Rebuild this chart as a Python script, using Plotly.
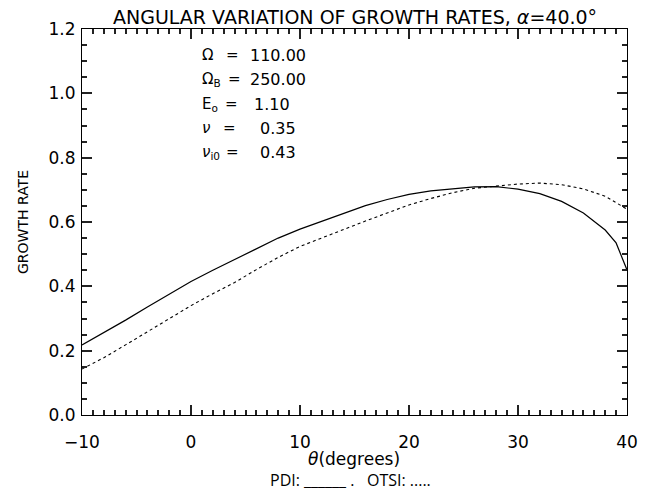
import plotly.graph_objects as go

# ---- data ----
theta_pdi = [-10, -8, -6, -4, -2, 0, 2, 4, 6, 8, 10, 12, 14, 16, 18, 20, 22, 24, 26, 28,
             30, 32, 34, 36, 38, 39, 40]
rate_pdi = [0.218, 0.256, 0.295, 0.336, 0.376, 0.415, 0.450, 0.484, 0.518, 0.550, 0.578,
            0.603, 0.627, 0.651, 0.670, 0.686, 0.697, 0.704, 0.709, 0.710,
            0.702, 0.688, 0.664, 0.628, 0.575, 0.535, 0.451]

theta_otsi = [-10, -8, -6, -4, -2, 0, 2, 4, 6, 8, 10, 12, 14, 16, 18, 20, 22, 24, 26, 28,
              30, 32, 34, 36, 38, 40]
rate_otsi = [0.143, 0.178, 0.218, 0.259, 0.299, 0.340, 0.377, 0.412, 0.452, 0.490, 0.524,
             0.551, 0.578, 0.603, 0.628, 0.653, 0.673, 0.691, 0.705, 0.712,
             0.718, 0.721, 0.716, 0.703, 0.680, 0.640]

param_labels = ["Ω", "Ω<sub>B</sub>", "E<sub>o</sub>", "<i>ν</i>", "<i>ν</i><sub>i0</sub>"]
param_values = ["110.00", "250.00", "1.10", "0.35", "0.43"]

title_text = "ANGULAR VARIATION OF GROWTH RATES, <i>α</i>=40.0°"
x_title = "<i>θ</i>(degrees)"
y_title = "GROWTH RATE"
legend_text = "PDI: ______ .   OTSI: ....."

# ---- layout geometry ----
# page body has an 8px margin, so the figure is offset by (8, 8) in the window
OFF = 8
W, H = 665 - 2 * OFF, 497 - 2 * OFF
# target plot box in window pixels: x 82..627, y 29..415
L, T = 82 - OFF, 29 - OFF
R = W - (627 - OFF)
B = H - (415 - OFF)
PW, PH = W - L - R, H - T - B
FONT = "DejaVu Sans"
TICKC = "#222222"


def px(xp):
    # window pixel -> paper fraction
    return (xp - OFF - L) / PW


def py(yp):
    return (H - B - (yp - OFF)) / PH


fig = go.Figure()
fig.add_trace(go.Scatter(x=theta_pdi, y=rate_pdi, mode="lines",
                         line=dict(color="black", width=1.2), showlegend=False))
fig.add_trace(go.Scatter(x=theta_otsi, y=rate_otsi, mode="lines",
                         line=dict(color="black", width=1.1, dash="dot"), showlegend=False))

tickfont = dict(family=FONT, size=17, color="black")

fig.update_xaxes(range=[-10, 40], dtick=10, showline=True, linecolor="black", linewidth=1,
                 mirror="allticks", ticks="inside", ticklen=10, tickwidth=2,
                 tickcolor=TICKC, tickfont=tickfont, ticklabelstandoff=12,
                 showgrid=False, zeroline=False,
                 minor=dict(dtick=1, ticks="inside", ticklen=5, tickwidth=2,
                            tickcolor=TICKC))
fig.update_yaxes(range=[0, 1.2], dtick=0.2, tickformat=".1f", showline=True,
                 linecolor="black", linewidth=1, mirror="allticks", ticks="inside",
                 ticklen=10, tickwidth=2, tickcolor=TICKC, tickfont=tickfont,
                 ticklabelstandoff=2, showgrid=False, zeroline=False,
                 minor=dict(dtick=0.05, ticks="inside", ticklen=5, tickwidth=2,
                            tickcolor=TICKC))

ann = []
ann.append(dict(text=title_text, x=px(355), y=py(17), xref="paper", yref="paper",
                showarrow=False, xanchor="center", yanchor="middle",
                font=dict(family=FONT, size=19, color="black")))
ann.append(dict(text=x_title, x=px(354), y=py(459), xref="paper", yref="paper",
                showarrow=False, xanchor="center", yanchor="middle",
                font=dict(family=FONT, size=17, color="black")))
ann.append(dict(text=legend_text, x=px(350), y=py(480), xref="paper", yref="paper",
                showarrow=False, xanchor="center", yanchor="middle",
                font=dict(family="Open Sans", size=16, color="black")))
ann.append(dict(text=y_title, x=px(23), y=py(222), xref="paper", yref="paper",
                showarrow=False, xanchor="center", yanchor="middle", textangle=-90,
                font=dict(family=FONT, size=14, color="black")))

row_y = [55, 79, 104, 128, 152]
eq_x = [232, 234, 231, 229, 232]
val_right = [308, 308, 292, 298, 298]
for lab, val, yy, ex, vr in zip(param_labels, param_values, row_y, eq_x, val_right):
    ann.append(dict(text=lab, x=px(200), y=py(yy), xref="paper", yref="paper",
                    showarrow=False, xanchor="left", yanchor="middle",
                    font=dict(family=FONT, size=15, color="black")))
    ann.append(dict(text="=", x=px(ex), y=py(yy), xref="paper", yref="paper",
                    showarrow=False, xanchor="center", yanchor="middle",
                    font=dict(family=FONT, size=15, color="black")))
    ann.append(dict(text=val, x=px(vr), y=py(yy), xref="paper", yref="paper",
                    showarrow=False, xanchor="right", yanchor="middle",
                    font=dict(family=FONT, size=16, color="black")))

fig.update_layout(
    width=W, height=H,
    margin=dict(l=L, r=R, t=T, b=B, autoexpand=False),
    paper_bgcolor="white", plot_bgcolor="white",
    annotations=ann,
    font=dict(family=FONT, color="black"),
)

fig.write_html("out.html")
